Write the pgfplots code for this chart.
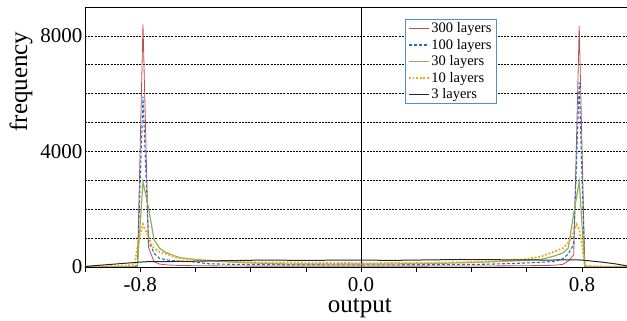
\documentclass[border=0pt]{standalone}
\usepackage{fontspec}
\setmainfont{Liberation Serif}
\usepackage{pgfplots}
\pgfplotsset{compat=1.18}
\definecolor{cred}{HTML}{C0504D}
\definecolor{cblue}{HTML}{1F6FC5}
\definecolor{cgreen}{HTML}{8DB255}
\definecolor{corange}{HTML}{F7A21B}
\definecolor{clegend}{HTML}{4F8FD0}
\begin{document}
\begin{tikzpicture}
\begin{axis}[
  at={(0,0)}, anchor=south west,
  scale only axis, width=542pt, height=260pt,
  xmin=-1, xmax=0.963, ymin=0, ymax=9000,
  axis y line*=left,
  axis line style={line width=0.8pt},
  xtick={-0.8,0,0.8}, xticklabels={-0.8,0.0,0.8},
  minor xtick={-1,-0.6,-0.4,-0.2,0.2,0.4,0.6},
  xtick pos=bottom,
  xtick align=outside,
  major tick length=5pt, minor tick length=5pt,
  every tick/.style={black, line width=0.6pt},
  ytick={0,4000,8000}, yticklabels={0,4000,8000},
  minor ytick={1000,2000,3000,5000,6000,7000,9000},
  major y tick style={draw=none}, minor y tick style={draw=none},
  ymajorgrids, yminorgrids,
  major grid style={black, line width=0.6pt, dash pattern=on 2pt off 1.2pt},
  minor grid style={black, line width=0.6pt, dash pattern=on 2pt off 1.2pt},
  extra x ticks={0}, extra x tick labels={},
  extra x tick style={grid=major, major grid style={solid, black, line width=0.8pt}, major tick length=0pt},
  tick label style={font=\fontsize{21}{24}\selectfont},
  xticklabel style={inner sep=0pt, yshift=-5.5pt},
  yticklabel style={xshift=1pt},
  xlabel={output}, ylabel={frequency},
  every axis x label/.style={at={(axis description cs:0.507,-0.176)}, anchor=base, inner sep=0pt, font=\fontsize{25}{28}\selectfont},
  every axis y label/.style={at={(axis description cs:-0.118,0.713)}, rotate=90, anchor=center, font=\fontsize{25}{28}\selectfont},
  legend style={at={(axis description cs:0.590,0.954)}, anchor=north west,
    draw=clegend, line width=0.8pt, font=\fontsize{14.5}{16}\selectfont,
    inner xsep=3pt, inner ysep=2pt, row sep=1.8pt,
    nodes={inner sep=1.5pt}},
  legend cell align=left,
  legend image code/.code={\draw[#1] (0pt,0pt) -- (20pt,0pt);},
]
\addplot[cred, line width=0.8pt] coordinates {
(-1.0,0) (-0.83,2) (-0.81,30) (-0.79,8400) (-0.77,680) (-0.75,180) (-0.73,100) (-0.70,70) (-0.65,50) (-0.55,40) (-0.40,30) (-0.20,30) (0.0,30) (0.20,30) (0.40,35) (0.55,40) (0.65,50) (0.70,60) (0.73,90) (0.75,200) (0.77,420) (0.79,8340) (0.81,0) (0.963,0)
};
\addlegendentry{300 layers\hspace{6pt}}
\addplot[cblue, line width=1.1pt, dash pattern=on 3pt off 2pt] coordinates {
(-1.0,0) (-0.83,5) (-0.81,40) (-0.79,5900) (-0.77,900) (-0.75,480) (-0.73,300) (-0.70,240) (-0.67,210) (-0.61,180) (-0.55,110) (-0.45,90) (-0.30,80) (-0.10,75) (0.10,75) (0.30,80) (0.45,95) (0.55,120) (0.62,150) (0.67,175) (0.70,190) (0.73,280) (0.75,450) (0.77,780) (0.79,6380) (0.81,0) (0.963,0)
};
\addlegendentry{100 layers}
\addplot[cgreen, line width=1.2pt] coordinates {
(-1.0,0) (-0.83,10) (-0.81,60) (-0.79,2950) (-0.77,2050) (-0.75,950) (-0.73,650) (-0.71,520) (-0.68,400) (-0.65,310) (-0.60,260) (-0.55,220) (-0.45,160) (-0.30,110) (-0.10,100) (0.10,105) (0.30,130) (0.45,170) (0.55,210) (0.60,230) (0.65,260) (0.70,380) (0.73,480) (0.75,650) (0.77,1850) (0.79,2960) (0.81,0) (0.963,0)
};
\addlegendentry{30 layers}
\addplot[corange, line width=1.8pt, dash pattern=on 1.8pt off 1.8pt] coordinates {
(-1.0,10) (-0.92,20) (-0.86,40) (-0.83,70) (-0.82,100) (-0.81,700) (-0.80,1150) (-0.79,1480) (-0.78,1250) (-0.77,1050) (-0.76,800) (-0.75,650) (-0.73,520) (-0.71,470) (-0.67,320) (-0.60,250) (-0.50,200) (-0.40,160) (-0.20,150) (0.0,130) (0.20,140) (0.40,170) (0.50,200) (0.60,270) (0.65,360) (0.70,530) (0.73,650) (0.75,830) (0.77,1200) (0.78,1480) (0.79,1300) (0.80,760) (0.81,60) (0.83,30) (0.90,15) (0.963,10)
};
\addlegendentry{10 layers}
\addplot[black!85, line width=1pt] coordinates {
(-1.0,20) (-0.96,50) (-0.92,80) (-0.88,110) (-0.84,140) (-0.80,170) (-0.76,190) (-0.72,185) (-0.68,190) (-0.60,200) (-0.52,215) (-0.44,225) (-0.36,240) (-0.28,235) (-0.20,225) (-0.12,235) (-0.04,240) (0.04,235) (0.12,230) (0.20,240) (0.28,250) (0.36,260) (0.44,255) (0.52,250) (0.60,245) (0.68,240) (0.76,250) (0.80,240) (0.84,200) (0.88,160) (0.92,110) (0.963,40)
};
\addlegendentry{3 layers}
\end{axis}
\pgfresetboundingbox
\path (-85pt,-54pt) rectangle (542pt,267pt);
\end{tikzpicture}
\end{document}
